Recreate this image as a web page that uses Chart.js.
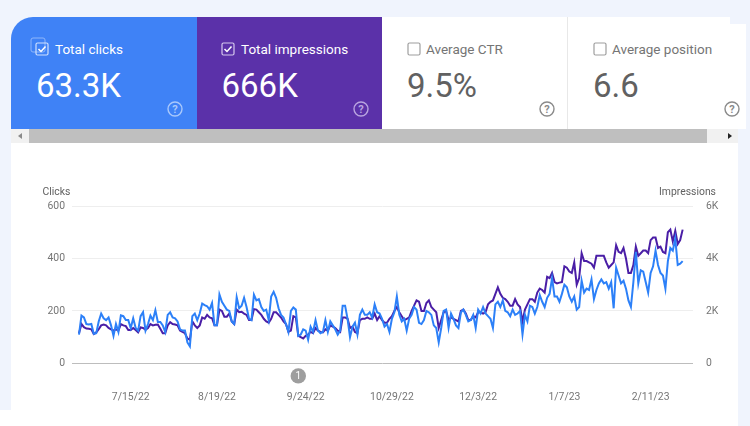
<!DOCTYPE html>
<html>
<head>
<meta charset="utf-8">
<script src="https://cdn.jsdelivr.net/npm/chart.js@4"></script>
<style>
  html, body { margin: 0; padding: 0; }
  body { width: 750px; height: 426px; overflow: hidden; position: relative; background: #f0f4fd; font-family: Roboto, sans-serif; }
  .box { position: absolute; }
  .panel { left: 11px; top: 143px; width: 727px; height: 267px; background: #fff; }
  .bottom { left: 0; top: 410px; width: 738px; height: 16px; background: #fff; }
  .card { position: absolute; top: 17px; height: 112px; }
  .c1 { left: 11px; width: 186px; background: #3f82f6; border-top-left-radius: 22px; color: #fff; }
  .c2 { left: 197px; width: 185px; background: #5b31a9; color: #fff; }
  .c3 { left: 382px; width: 185px; background: #fff; color: #757575; }
  .c4 { left: 568px; width: 178px; background: #fff; color: #757575; }
  .corner { left: 730px; top: 17px; width: 20px; height: 7px; background: #f0f4fd; }
  .sep { left: 567px; top: 17px; width: 1px; height: 112px; background: #e8e8e8; }
  .name { position: absolute; top: 24px; font-size: 13.5px; line-height: 16px; white-space: nowrap; }
  .val { position: absolute; top: 49px; font-size: 33px; line-height: 40px; white-space: nowrap; }
  .c3 .val, .c4 .val { color: #616161; }
  .check { position: absolute; top: 25px; width: 14px; height: 14px; }
  .help { position: absolute; top: 84px; width: 16px; height: 16px; }
  .track { left: 11px; top: 129px; width: 727px; height: 14px; background: #f1f1f1; }
  .thumb { left: 29px; top: 129px; width: 678px; height: 14px; background: #bfbfbf; }
  .arrow { top: 133px; width: 0; height: 0; border-top: 3.5px solid transparent; border-bottom: 3.5px solid transparent; }
  .axis-name { position: absolute; top: 185px; font-size: 10.4px; line-height: 13px; color: #616161; white-space: nowrap; }
  canvas { position: absolute; left: 0; top: 0; }
</style>
</head>
<body>
<div class="box panel"></div>
<div class="box bottom"></div>

<div class="card c1">
  <svg class="check" style="left:19px;top:20px;width:16px;height:16px" viewBox="0 0 16 16"><rect x="1" y="1" width="14" height="14" rx="2" fill="none" stroke="#8fb6fa" stroke-width="1"/></svg>
  <svg class="check" style="left:24px" viewBox="0 0 14 14"><rect x="1" y="1" width="12" height="12" rx="1.5" fill="none" stroke="#cfe0fd" stroke-width="1.2"/><path d="M3.5 7l2.5 2.5 4.5-5" fill="none" stroke="#fff" stroke-width="1.5"/></svg>
  <span class="name" style="left:44px">Total clicks</span>
  <span class="val" style="left:25px">63.3K</span>
  <svg class="help" style="left:156px" viewBox="0 0 16 16"><circle cx="8" cy="8" r="7" fill="none" stroke="#a9c8fb" stroke-width="1.4"/><text x="8" y="12" text-anchor="middle" font-size="11" font-weight="700" fill="#a9c8fb" font-family="Roboto">?</text></svg>
</div>
<div class="card c2">
  <svg class="check" style="left:24px" viewBox="0 0 14 14"><rect x="1" y="1" width="12" height="12" rx="1.5" fill="none" stroke="#d6c9ee" stroke-width="1.2"/><path d="M3.5 7l2.5 2.5 4.5-5" fill="none" stroke="#fff" stroke-width="1.5"/></svg>
  <span class="name" style="left:44px">Total impressions</span>
  <span class="val" style="left:24.5px">666K</span>
  <svg class="help" style="left:156px" viewBox="0 0 16 16"><circle cx="8" cy="8" r="7" fill="none" stroke="#b9a4e0" stroke-width="1.4"/><text x="8" y="12" text-anchor="middle" font-size="11" font-weight="700" fill="#b9a4e0" font-family="Roboto">?</text></svg>
</div>
<div class="card c3">
  <svg class="check" style="left:25px" viewBox="0 0 14 14"><rect x="1" y="1" width="12" height="12" rx="1.5" fill="none" stroke="#9e9e9e" stroke-width="1.2"/></svg>
  <span class="name" style="left:44px">Average CTR</span>
  <span class="val" style="left:25px">9.5%</span>
  <svg class="help" style="left:156.5px" viewBox="0 0 16 16"><circle cx="8" cy="8" r="7" fill="none" stroke="#8a8a8a" stroke-width="1.4"/><text x="8" y="12" text-anchor="middle" font-size="11" font-weight="700" fill="#8a8a8a" font-family="Roboto">?</text></svg>
</div>
<div class="card c4">
  <svg class="check" style="left:25px" viewBox="0 0 14 14"><rect x="1" y="1" width="12" height="12" rx="1.5" fill="none" stroke="#9e9e9e" stroke-width="1.2"/></svg>
  <span class="name" style="left:44px">Average position</span>
  <span class="val" style="left:25px">6.6</span>
  <svg class="help" style="left:156px" viewBox="0 0 16 16"><circle cx="8" cy="8" r="7" fill="none" stroke="#8a8a8a" stroke-width="1.4"/><text x="8" y="12" text-anchor="middle" font-size="11" font-weight="700" fill="#8a8a8a" font-family="Roboto">?</text></svg>
</div>
<div class="box sep"></div>
<div class="box corner"></div>

<div class="box track"></div>
<div class="box thumb"></div>
<div class="box arrow" style="left:18px;border-right:4px solid #8a8a8a"></div>
<div class="box arrow" style="left:728px;border-left:4px solid #222"></div>

<canvas id="chart" width="750" height="426"></canvas>
<span class="axis-name" style="left:42.5px">Clicks</span>
<span class="axis-name" style="left:659px">Impressions</span>

<script>
// day 0 is 6/24/22, one value per day
const tickDays = [21, 56, 92, 127, 162, 197, 232];
const tickLabels = ['7/15/22', '8/19/22', '9/24/22', '10/29/22', '12/3/22', '1/7/23', '2/11/23'];
const markerDay = 89;
const markerLabel = '1';

const clicks = [
  110, 182, 175, 150, 148, 150, 113, 115, 160, 190, 172, 165, 175, 145, 105, 150, 120, 183, 180, 165,
  165, 135, 172, 135, 125, 180, 195, 125, 150, 182, 165, 203, 158, 158, 145, 120, 185, 195, 175, 172,
  160, 130, 125, 125, 80, 65, 180, 190, 165, 190, 228, 222, 218, 205, 230, 145, 145, 263, 235, 220,
  205, 200, 160, 150, 252, 210, 220, 250, 215, 170, 165, 262, 240, 245, 215, 200, 205, 165, 255, 273,
  250, 210, 185, 175, 150, 120, 200, 213, 205, 105, 110, 130, 125, 90, 140, 120, 165, 125, 115, 120,
  165, 120, 160, 145, 130, 110, 125, 220, 220, 170, 100, 140, 155, 110, 185, 205, 185, 185, 195, 175,
  225, 195, 190, 170, 140, 150, 120, 170, 195, 255, 185, 160, 170, 125, 170, 185, 215, 205, 155, 150,
  165, 200, 195, 185, 145, 135, 80, 135, 200, 205, 135, 190, 170, 145, 135, 195, 205, 185, 160, 165,
  185, 135, 205, 190, 215, 190, 180, 170, 135, 225, 235, 215, 240, 200, 195, 180, 205, 185, 190, 200,
  110, 185, 160, 220, 215, 190, 215, 260, 235, 215, 250, 265, 325, 255, 255, 235, 265, 300, 290, 255,
  235, 255, 205, 215, 315, 270, 285, 280, 320, 245, 280, 305, 320, 305, 310, 285, 310, 210, 365, 335,
  305, 315, 285, 240, 215, 310, 425, 305, 355, 350, 310, 270, 345, 370, 430, 375, 345, 335, 285, 390,
  440, 430, 475, 375, 380, 390
];

const impressions = [
  1150, 1500, 1380, 1330, 1320, 1300, 1120, 1180, 1300, 1450, 1480, 1450, 1350, 1300, 1250, 1300, 1250, 1500, 1450, 1420,
  1270, 1270, 1350, 1270, 1180, 1370, 1350, 1280, 1350, 1500, 1450, 1470, 1480, 1320, 1150, 1150, 1450, 1570, 1500, 1480,
  1450, 1250, 1200, 1150, 950, 900, 1600, 1450, 1350, 1450, 1750, 1700, 1850, 1750, 1720, 1450, 1450, 2050, 2000, 1780,
  1780, 1900, 1600, 1500, 2050, 1950, 1970, 1900, 1850, 1650, 1650, 2070, 2050, 1950, 1850, 1700, 1600, 1550, 1700, 1950,
  1950, 1850, 1750, 1600, 1500, 1200, 1250, 1800, 1750, 1050, 1000, 950, 1050, 1100, 1200, 1150, 1350, 1250, 1200, 1180,
  1300, 1250, 1450, 1400, 1350, 1250, 1200, 1750, 1750, 1700, 1350, 1400, 1200, 1150, 1650, 1700, 1700, 1750, 1700, 1700,
  1900, 1650, 1800, 1650, 1550, 1550, 1700, 1800, 2000, 2150, 1950, 1800, 1650, 1700, 1750, 2000, 2200, 2400, 2350, 2000,
  2000, 2300, 2400, 2150, 2050, 1950, 1350, 1650, 1950, 2000, 1650, 1750, 1700, 1650, 1600, 2000, 2050, 1900, 1650, 1650,
  1800, 1750, 1950, 1950, 1900, 1950, 2250, 2350, 2400, 2650, 2900, 2650, 2500, 2450, 2350, 2200, 2200, 2450, 2250, 2150,
  1600, 2050, 2250, 2450, 2450, 2350, 2700, 2850, 2800, 2700, 3300, 3250, 3450, 3100, 3050, 3080, 3100, 3700, 3650, 3500,
  3450, 3850, 3000, 3250, 4200, 3900, 3900, 3850, 3800, 3650, 4100, 4100, 4100, 4100, 3850, 3650, 3750, 3850, 4500, 4250,
  4200, 4400, 4000, 3450, 3450, 3750, 4450, 4100, 4200, 4300, 4300, 4200, 4700, 4800, 4800, 4400, 4450, 4250, 4200, 5000,
  5100, 4650, 5050, 4550, 4700, 5100
];

function points(values) {
  return values.map((v, i) => ({ x: i, y: v }));
}

// the small numbered annotation bubble under the axis
const markerPlugin = {
  id: 'marker',
  afterDraw(chart) {
    const c = chart.ctx;
    const x = chart.scales.x.getPixelForValue(markerDay);
    const y = chart.scales.x.top + 12.5;
    c.save();
    c.beginPath();
    c.arc(x, y, 7.7, 0, Math.PI * 2);
    c.fillStyle = '#9e9e9e';
    c.fill();
    c.fillStyle = '#fff';
    c.font = '10px Roboto';
    c.textAlign = 'center';
    c.textBaseline = 'middle';
    c.fillText(markerLabel, x, y + 0.5);
    c.restore();
  }
};

const gridColor = ctx => ctx.tick.value === 0 ? '#bdbdbd' : '#eeeeee';

new Chart(document.getElementById('chart'), {
  type: 'line',
  data: {
    datasets: [
      { label: 'Clicks', data: points(clicks), yAxisID: 'y', borderColor: '#2c80f8', borderWidth: 2, pointRadius: 0, tension: 0, order: 1 },
      { label: 'Impressions', data: points(impressions), yAxisID: 'y2', borderColor: '#4a1ea6', borderWidth: 2, pointRadius: 0, tension: 0, order: 2 }
    ]
  },
  plugins: [markerPlugin],
  options: {
    responsive: false,
    animation: false,
    layout: { padding: { top: 206, left: 0, right: 0, bottom: 0 } },
    plugins: { legend: { display: false }, tooltip: { enabled: false } },
    scales: {
      x: {
        type: 'linear',
        min: -2.84,
        max: 249.2,
        afterBuildTicks: s => { s.ticks = tickDays.map(v => ({ value: v })); },
        afterFit: s => { s.height = 62.6; },
        grid: { display: false },
        border: { display: false },
        ticks: {
          autoSkip: false,
          maxRotation: 0,
          padding: 20,
          color: '#757575',
          font: { family: 'Roboto', size: 10.4 },
          callback: v => tickLabels[tickDays.indexOf(v)]
        }
      },
      y: {
        position: 'left',
        min: 0,
        max: 600,
        afterFit: s => { s.width = 72; },
        grid: { color: gridColor, lineWidth: 1, drawTicks: false },
        border: { display: false },
        ticks: { stepSize: 200, padding: 7, color: '#757575', font: { family: 'Roboto', size: 10.4 } }
      },
      y2: {
        position: 'right',
        min: 0,
        max: 6000,
        afterFit: s => { s.width = 57; },
        grid: { display: false },
        border: { display: false },
        ticks: {
          stepSize: 2000,
          padding: 5,
          color: '#757575',
          font: { family: 'Roboto', size: 10.4 },
          callback: v => v === 0 ? '0' : (v / 1000) + 'K'
        }
      }
    }
  }
});
</script>
</body>
</html>
